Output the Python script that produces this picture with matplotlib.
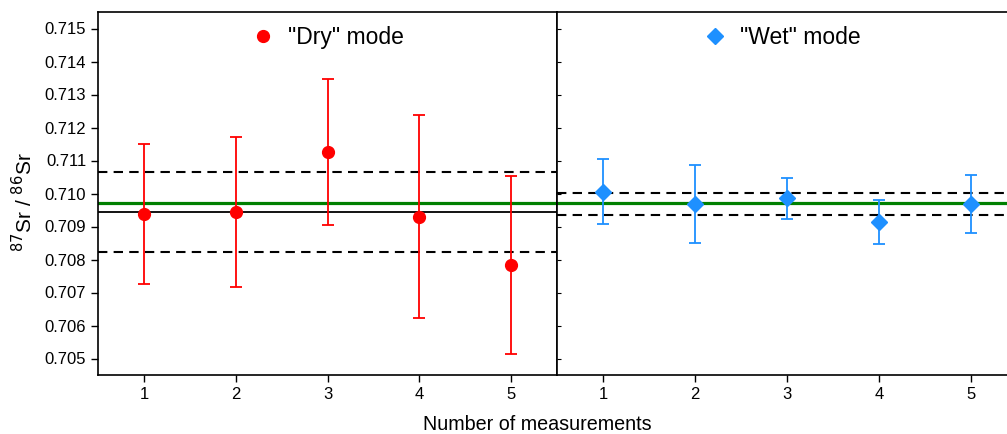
import numpy as np
import matplotlib
matplotlib.use("Agg")
import matplotlib.pyplot as plt
from matplotlib.lines import Line2D

plt.rcParams['font.family'] = ['Liberation Sans', 'DejaVu Sans']

# measurement number
runs = [1, 2, 3, 4, 5]

# "Dry" mode
dry_val = [0.70938, 0.70944, 0.71126, 0.70930, 0.70784]
dry_err = [0.00212, 0.00226, 0.00221, 0.00307, 0.00270]
dry_mean = 0.70945
dry_sd = 0.00121

# "Wet" mode
wet_val = [0.71006, 0.70968, 0.70985, 0.70913, 0.70968]
wet_err = [0.00099, 0.00117, 0.00063, 0.00066, 0.00087]
wet_mean = 0.70969
wet_sd = 0.00034

# reference value (green line)
ref_val = 0.70970

W, H = 1007, 434
fig = plt.figure(figsize=(W / 100, H / 100), dpi=100)
y0 = (H - 375) / H
hgt = (375 - 12) / H
ax1 = fig.add_axes([98 / W, y0, (557 - 98) / W, hgt])
ax2 = fig.add_axes([557 / W, y0, (1007 - 557) / W, hgt], sharey=ax1)

dash = (0, (4.5, 3))
leg_kw = dict(loc='upper center', frameon=False, fontsize=16.5,
              handlelength=1.0, handletextpad=0.6, borderaxespad=0.2)

# left panel
ax1.axhline(dry_mean + dry_sd, color='black', lw=1.5, ls=dash, zorder=1)
ax1.axhline(dry_mean - dry_sd, color='black', lw=1.5, ls=dash, zorder=1)
ax1.axhline(dry_mean, color='black', lw=1.3, zorder=1)
ax1.axhline(ref_val, color='#008000', lw=2.3, zorder=2)
ax1.errorbar(runs, dry_val, yerr=dry_err, fmt='o', color='#ff0000', ms=8.5,
             elinewidth=1.3, capsize=4, capthick=1.3, zorder=3)
h1 = Line2D([], [], marker='o', color='#ff0000', ls='none', ms=8.5)
ax1.legend([h1], ['"Dry" mode'], **leg_kw)

# right panel
ax2.axhline(wet_mean + wet_sd, color='black', lw=1.5, ls=dash, zorder=1)
ax2.axhline(wet_mean - wet_sd, color='black', lw=1.5, ls=dash, zorder=1)
ax2.axhline(ref_val, color='#008000', lw=2.3, zorder=2)
ax2.errorbar(runs, wet_val, yerr=wet_err, fmt='D', color='#1e90ff', ms=8,
             elinewidth=1.3, capsize=4, capthick=1.3, zorder=3)
h2 = Line2D([], [], marker='D', color='#1e90ff', ls='none', ms=8)
ax2.legend([h2], ['"Wet" mode'], **leg_kw)

ax1.set_ylim(0.7045, 0.7155)
ax1.set_yticks(np.arange(0.705, 0.7151, 0.001))
ax1.yaxis.set_major_formatter(matplotlib.ticker.FormatStrFormatter('%.3f'))
ax1.set_xlim(0.5, 5.5)
ax2.set_xlim(0.5, 5.39)
for ax in (ax1, ax2):
    ax.set_xticks(runs)
    ax.tick_params(axis='x', direction='out', length=5, width=1, labelsize=12)
    for s in ax.spines.values():
        s.set_linewidth(1.2)
ax1.tick_params(axis='y', direction='out', length=5, width=1, labelsize=12)
ax2.tick_params(axis='y', direction='in', length=3, width=0.8, labelleft=False)
ax2.spines['right'].set_visible(False)

ax1.set_ylabel(r'$^{87}$Sr / $^{86}$Sr', fontsize=15)
ax1.yaxis.set_label_coords(-0.135, 0.475)
fig.text(537 / W, 1 - 425 / H, 'Number of measurements', fontsize=14.2,
         ha='center', va='center')

plt.savefig('out.png', dpi=100)
